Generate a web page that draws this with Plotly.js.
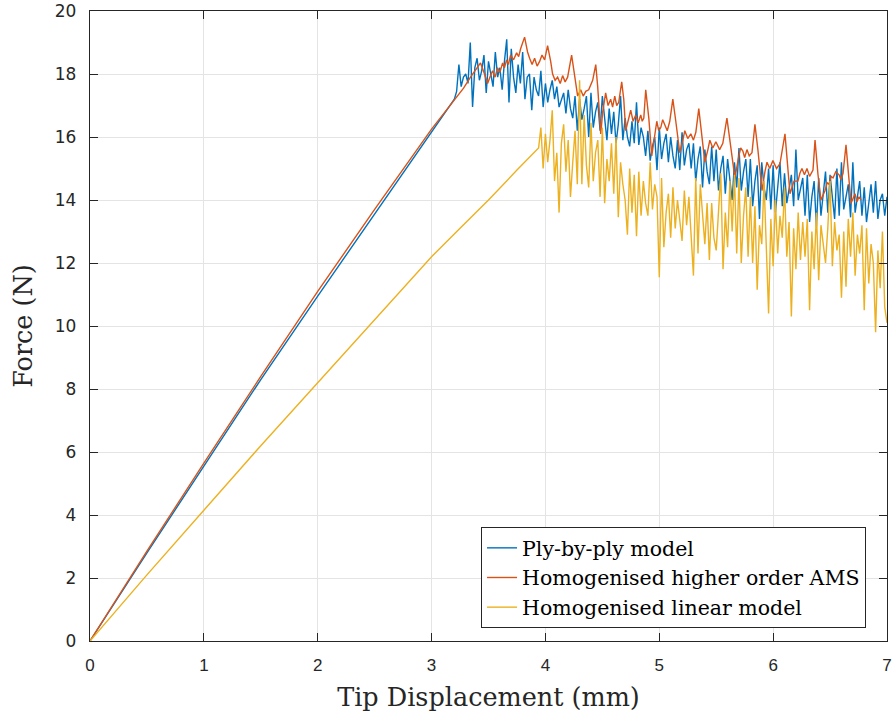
<!DOCTYPE html>
<html>
<head>
<meta charset="utf-8">
<script src="https://cdn.plot.ly/plotly-3.0.1.min.js"></script>
<style>html,body{margin:0;padding:0;background:#fff;}#chart{width:893px;height:719px;}</style>
</head>
<body>
<div id="chart"></div>
<script>
// Ply-by-ply model (blue)
const plyX = [0, 0.5, 1, 1.5, 2, 2.5, 3, 3.2,
  3.22, 3.24, 3.26, 3.28,
  3.30, 3.32, 3.34, 3.36, 3.38, 3.40, 3.42, 3.44, 3.46, 3.48,
  3.50, 3.52, 3.54, 3.56, 3.58, 3.60, 3.62, 3.64, 3.66, 3.68,
  3.70, 3.72, 3.74, 3.76, 3.78, 3.80, 3.82, 3.84, 3.86, 3.88,
  3.90, 3.92, 3.94, 3.96, 3.98, 4.00, 4.02, 4.04, 4.06, 4.08,
  4.10, 4.12, 4.14, 4.16, 4.18, 4.20, 4.22, 4.24, 4.26, 4.28,
  4.30, 4.32, 4.34, 4.36, 4.38, 4.40, 4.42, 4.44, 4.46, 4.48,
  4.50, 4.52, 4.54, 4.56, 4.58, 4.60, 4.62, 4.64, 4.66, 4.68,
  4.70, 4.72, 4.74, 4.76, 4.78, 4.80, 4.82, 4.84, 4.86, 4.88,
  4.90, 4.92, 4.94, 4.96, 4.98, 5.00, 5.02, 5.04, 5.06, 5.08,
  5.10, 5.12, 5.14, 5.16, 5.18, 5.20, 5.22, 5.24, 5.26, 5.28,
  5.30, 5.32, 5.34, 5.36, 5.38, 5.40, 5.42, 5.44, 5.46, 5.48,
  5.50, 5.52, 5.54, 5.56, 5.58, 5.60, 5.62, 5.64, 5.66, 5.68,
  5.70, 5.72, 5.74, 5.76, 5.78, 5.80, 5.82, 5.84, 5.86, 5.88,
  5.90, 5.92, 5.94, 5.96, 5.98, 6.00, 6.02, 6.04, 6.06, 6.08,
  6.10, 6.12, 6.14, 6.16, 6.18, 6.20, 6.22, 6.24, 6.26, 6.28,
  6.30, 6.32, 6.34, 6.36, 6.38, 6.40, 6.42, 6.44, 6.46, 6.48,
  6.50, 6.52, 6.54, 6.56, 6.58, 6.60, 6.62, 6.64, 6.66, 6.68,
  6.70, 6.72, 6.74, 6.76, 6.78, 6.80, 6.82, 6.84, 6.86, 6.88,
  6.90, 6.92, 6.94, 6.96, 6.98, 7.00];
const plyF = [0, 2.8, 5.55, 8.3, 10.95, 13.55, 16.15, 17.2,
  17.45, 18.3, 17.6, 17.9,
  18.0, 17.7, 19.0, 16.95, 18.2, 18.5, 17.8, 18.1, 18.6, 17.4,
  18.4, 18.0, 17.6, 18.7, 17.9, 18.2, 17.5, 18.4, 19.1, 17.1,
  18.8, 17.9, 17.4, 18.3, 17.7, 18.7, 17.2, 17.9, 18.0, 16.85,
  17.9, 17.5, 17.3, 18.1, 16.95, 17.7, 17.1, 17.5, 17.8, 17.2,
  17.6, 16.95, 17.2, 17.4, 16.75, 17.5, 16.9, 16.6, 17.3, 16.2,
  17.2, 16.55, 16.9, 17.3, 16.0, 17.4, 16.3, 16.8, 17.1, 16.2,
  17.3, 16.5, 15.9, 16.9, 16.1, 16.8, 15.8, 16.4, 17.3, 15.9,
  16.6, 16.0, 15.7, 16.5, 15.8, 17.1, 15.75, 16.3, 16.0, 15.4,
  16.2, 15.25, 15.7, 16.0, 14.95, 16.3, 15.3, 15.8, 16.1, 15.2,
  16.0, 15.4, 15.0, 15.9, 14.95, 16.15, 15.1, 15.6, 15.8, 15.0,
  15.8, 14.6, 15.3, 15.7, 14.4, 15.6, 14.9, 14.5, 15.7, 14.6,
  15.6, 14.3, 15.0, 15.4, 14.2, 15.3, 14.6, 14.0, 15.2, 14.4,
  15.65, 14.3, 14.9, 15.3, 14.1, 15.3, 13.8, 14.6, 15.1, 13.4,
  15.2, 14.4, 14.0, 15.0, 13.7, 15.1, 13.6, 14.5, 15.2, 13.8,
  14.85, 13.9, 14.3, 14.8, 13.8, 15.6, 14.0, 14.4, 14.7, 13.5,
  14.8, 13.3, 14.1, 14.6, 13.15, 14.7, 13.5, 14.2, 14.9, 13.6,
  14.8, 14.1, 13.4, 15.0, 13.5, 15.2, 13.7, 14.1, 14.5, 13.45,
  15.2, 13.6, 14.2, 14.6, 13.5, 14.4, 13.3, 13.9, 14.5, 13.6,
  14.6, 13.4, 14.0, 14.2, 13.5, 14.1];

// Homogenised higher order AMS (red)
const amsX = [0, 0.5, 1, 1.5, 2, 2.5, 3,
  3.281, 3.342, 3.395, 3.430, 3.465, 3.492, 3.518, 3.536, 3.558, 3.580,
  3.600, 3.624, 3.640, 3.659, 3.675, 3.694, 3.720, 3.747, 3.765, 3.782,
  3.817, 3.843, 3.861, 3.883, 3.905, 3.927, 3.949, 3.970, 3.993,
  4.019, 4.046, 4.063, 4.085, 4.107, 4.130, 4.151, 4.173, 4.195, 4.230,
  4.257, 4.283, 4.310, 4.332, 4.354, 4.380, 4.415, 4.442, 4.459, 4.486,
  4.503, 4.529, 4.550, 4.573, 4.590, 4.609, 4.626, 4.644,
  4.670, 4.688, 4.705, 4.732, 4.749, 4.770, 4.793, 4.815, 4.837, 4.850,
  4.864, 4.881, 4.908, 4.934, 4.960, 4.978, 4.995, 5.013, 5.030, 5.048,
  5.070, 5.092,
  5.119, 5.145, 5.180, 5.207, 5.224, 5.250, 5.277, 5.300, 5.321, 5.347,
  5.374, 5.400, 5.427, 5.444, 5.470, 5.497, 5.530, 5.558,
  5.594, 5.629, 5.664, 5.699, 5.715, 5.734, 5.750, 5.770, 5.790, 5.814,
  5.840, 5.866, 5.902, 5.928, 5.946, 5.970, 5.998, 6.030, 6.060,
  6.104, 6.130, 6.148, 6.183, 6.218, 6.235, 6.253, 6.275, 6.297, 6.320,
  6.350, 6.368, 6.394, 6.420, 6.456, 6.475, 6.491, 6.510, 6.526, 6.550,
  6.579, 6.595, 6.614,
  6.640, 6.667, 6.684, 6.719, 6.735, 6.755, 6.772];
const amsF = [0, 2.85, 5.65, 8.4, 11.1, 13.7, 16.25,
  17.55, 17.9, 18.15, 18.35, 18.0, 17.7, 17.95, 18.1, 17.9, 18.2,
  18.05, 18.35, 18.2, 18.45, 18.3, 18.6, 18.45, 18.67, 18.55, 18.8,
  19.17, 18.7, 18.5, 18.3, 18.5, 18.25, 18.4, 18.6, 18.45,
  18.9, 18.4, 18.0, 17.8, 17.9, 17.7, 17.95, 17.75, 17.9, 18.6,
  17.9, 17.3, 17.5, 17.3, 17.45, 17.5, 17.8, 18.3, 17.6, 16.1,
  16.8, 17.4, 17.0, 17.2, 16.95, 17.3, 17.0, 17.1,
  17.75, 17.2, 16.2, 16.6, 16.85, 16.5, 16.7, 16.45, 16.7, 16.5,
  16.6, 17.5, 16.6, 15.4, 16.1, 16.5, 16.2, 16.3, 16.55, 16.4,
  16.2, 16.5,
  17.2, 16.5, 15.5, 15.9, 16.2, 15.95, 16.1, 15.9, 16.15, 16.9,
  16.0, 15.2, 15.6, 15.9, 15.65, 15.85, 15.6, 15.8,
  16.6, 15.6, 14.7, 15.4, 15.65, 15.55, 15.35, 15.6, 15.4, 15.5,
  16.4, 15.6, 14.3, 14.9, 15.2, 15.0, 15.25, 15.0, 15.15,
  16.1, 15.1, 14.2, 14.6, 14.6, 14.85, 15.0, 14.8, 15.0, 14.75,
  14.95, 15.9, 14.8, 14.0, 14.3, 14.55, 14.5, 14.75, 14.7, 14.9,
  14.8, 14.65, 14.85,
  15.75, 14.6, 13.9, 14.2, 13.95, 14.1, 14.0];

// Homogenised linear model (yellow)
const linX = [0, 0.5, 1, 1.5, 2, 2.5, 3, 3.25, 3.5, 3.75, 3.94,
  3.96, 3.98,
  4.00, 4.02, 4.04, 4.06, 4.08, 4.10, 4.12, 4.14, 4.16, 4.18,
  4.20, 4.22, 4.24, 4.26, 4.28, 4.30, 4.32, 4.34, 4.36, 4.38,
  4.40, 4.42, 4.44, 4.46, 4.48, 4.50, 4.52, 4.54, 4.56, 4.58,
  4.60, 4.62, 4.64, 4.66, 4.68, 4.70, 4.72, 4.74, 4.76, 4.78,
  4.80, 4.82, 4.84, 4.86, 4.88, 4.90, 4.92, 4.94, 4.96, 4.98,
  5.00, 5.02, 5.04, 5.06, 5.08, 5.10, 5.12, 5.14, 5.16, 5.18,
  5.20, 5.22, 5.24, 5.26, 5.28, 5.30, 5.32, 5.34, 5.36, 5.38,
  5.40, 5.42, 5.44, 5.46, 5.48, 5.50, 5.52, 5.54, 5.56, 5.58,
  5.60, 5.62, 5.64, 5.66, 5.68, 5.70, 5.72, 5.74, 5.76, 5.78,
  5.80, 5.82, 5.84, 5.86, 5.88, 5.90, 5.92, 5.94, 5.96, 5.98,
  6.00, 6.02, 6.04, 6.06, 6.08, 6.10, 6.12, 6.14, 6.16, 6.18,
  6.20, 6.22, 6.24, 6.26, 6.28, 6.30, 6.32, 6.34, 6.36, 6.38,
  6.40, 6.42, 6.44, 6.46, 6.48, 6.50, 6.52, 6.54, 6.56, 6.58,
  6.60, 6.62, 6.64, 6.66, 6.68, 6.70, 6.72, 6.74, 6.76, 6.78,
  6.80, 6.82, 6.84, 6.86, 6.88, 6.90, 6.92, 6.94, 6.96, 6.98,
  7.00];
const linF = [0, 2.1, 4.15, 6.2, 8.2, 10.2, 12.2, 13.1, 14.0, 14.95, 15.65,
  16.3, 15.0,
  16.1, 15.2, 15.9, 16.85, 14.6, 15.5, 13.6, 15.8, 16.4, 14.9,
  15.9, 14.1, 15.2, 16.2, 14.5, 17.8, 14.5, 16.7, 15.1, 14.4,
  16.45, 14.6, 15.5, 15.9, 14.1, 16.3, 13.9, 15.3, 14.6, 15.8,
  14.2, 16.0, 13.45, 15.2, 14.5, 14.0, 12.9, 15.0, 13.6, 14.8,
  12.85, 14.9, 13.5, 14.6, 13.9, 13.5, 15.2, 13.7, 14.5, 14.1,
  11.55, 14.7, 12.5, 13.6, 14.2, 12.8, 14.4, 13.1, 14.0, 13.3,
  12.7, 14.3, 13.2, 14.1, 12.9, 11.6, 14.7, 12.3, 14.5, 13.4,
  12.6, 13.9, 12.1, 13.9, 12.8, 12.4, 13.5, 14.85, 11.8, 13.6,
  12.5, 14.6, 13.0, 14.8, 12.3, 14.7, 12.0, 13.5, 14.4, 12.2,
  14.1, 12.0, 13.8, 11.15, 13.2, 12.6, 14.6, 12.1, 10.4, 13.4,
  11.9, 14.0, 12.3, 13.5, 12.8, 14.4, 12.2, 13.3, 10.3, 13.1,
  11.8, 13.6, 12.1, 13.3, 12.2, 13.4, 10.5, 13.0, 11.8, 13.6,
  11.45, 13.2, 12.5, 12.0, 13.1, 14.6, 11.9, 13.3, 12.4, 12.9,
  10.9, 13.0, 11.25, 13.4, 12.2, 13.6, 11.6, 12.9, 12.3, 13.2,
  10.5, 13.1, 11.35, 12.6, 12.0, 9.8, 12.4, 11.2, 13.0, 10.6,
  10.1];

const seriesNames = ['Ply-by-ply model', 'Homogenised higher order AMS', 'Homogenised linear model'];
const seriesColors = ['#0072BD', '#D95319', '#EDB120'];

const traces = [
  {x: plyX, y: plyF, name: seriesNames[0]},
  {x: amsX, y: amsF, name: seriesNames[1]},
  {x: linX, y: linF, name: seriesNames[2]}
].map((t, i) => Object.assign(t, {
  type: 'scatter', mode: 'lines',
  line: {color: seriesColors[i], width: 1.4}
}));

const axisCommon = {
  showline: true, linecolor: '#262626', linewidth: 1.2, mirror: 'ticks',
  ticks: 'inside', ticklen: 8, tickwidth: 1, tickcolor: '#262626',
  showgrid: true, gridcolor: '#e4e4e4', gridwidth: 1, zeroline: false,
  fixedrange: true
};

const layout = {
  width: 893, height: 719,
  margin: {l: 90, r: 6, t: 11, b: 78},
  paper_bgcolor: '#ffffff', plot_bgcolor: '#ffffff',
  showlegend: true,
  xaxis: Object.assign({}, axisCommon, {
    range: [0, 7], dtick: 1, tick0: 0,
    tickfont: {family: 'Liberation Sans, Arial, sans-serif', size: 17, color: '#262626'},
    ticklabelstandoff: 8,
    title: {text: 'Tip Displacement (mm)', standoff: 14,
      font: {family: 'DejaVu Serif, serif', size: 25.5, color: '#262626'}}
  }),
  yaxis: Object.assign({}, axisCommon, {
    range: [0, 20], dtick: 2, tick0: 0,
    tickfont: {family: 'DejaVu Sans, sans-serif', size: 17, color: '#262626'},
    ticklabelstandoff: 9,
    title: {text: 'Force (N)', standoff: 14,
      font: {family: 'DejaVu Serif, serif', size: 25.5, color: '#262626'}}
  }),
  legend: {
    x: 0.9737, xanchor: 'right', y: 0.0206, yanchor: 'bottom',
    bgcolor: '#ffffff', bordercolor: '#262626', borderwidth: 1,
    font: {family: 'DejaVu Serif, serif', size: 20.5, color: '#000000'},
    tracegroupgap: 0
  }
};

Plotly.newPlot('chart', traces, layout, {displayModeBar: false, staticPlot: true});
</script>
</body>
</html>
